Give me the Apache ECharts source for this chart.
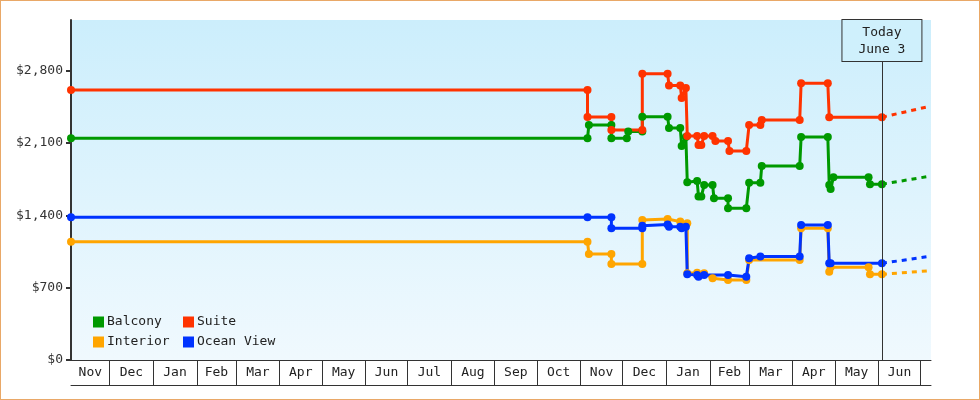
<!DOCTYPE html>
<html>
<head>
<meta charset="utf-8">
<script src="https://cdn.jsdelivr.net/npm/echarts@6/dist/echarts.min.js"></script>
<style>
  html, body { margin: 0; padding: 0; background: #fff; }
  #chart { width: 980px; height: 400px; box-sizing: border-box; border: 1px solid #e9a867; }
</style>
</head>
<body>
<div id="chart"></div>
<script>
const FONT = '"DejaVu Sans Mono", "Liberation Mono", monospace';

// axis range and "today"
const xStart = '2012-11-03 12:00';
const xEnd = '2014-07-08 10:00';
const today = '2014-06-03 12:00';

const monthStarts = [
  '2012-12-01', '2013-01-01', '2013-02-01', '2013-03-01', '2013-04-01', '2013-05-01',
  '2013-06-01', '2013-07-01', '2013-08-01', '2013-09-01', '2013-10-01', '2013-11-01',
  '2013-12-01', '2014-01-01', '2014-02-01', '2014-03-01', '2014-04-01', '2014-05-01',
  '2014-06-01', '2014-07-01'
];
const monthLabels = [
  'Nov', 'Dec', 'Jan', 'Feb', 'Mar', 'Apr', 'May', 'Jun', 'Jul', 'Aug', 'Sep', 'Oct',
  'Nov', 'Dec', 'Jan', 'Feb', 'Mar', 'Apr', 'May', 'Jun'
];
const yTicks = [0, 700, 1400, 2100, 2800];

const balcony = [
  [xStart, 2146], ['2013-11-06', 2146], ['2013-11-07', 2275], ['2013-11-23', 2275],
  ['2013-11-23', 2146], ['2013-12-04', 2146], ['2013-12-05', 2210], ['2013-12-15', 2210],
  ['2013-12-15', 2355], ['2014-01-02', 2355], ['2014-01-03', 2246], ['2014-01-11', 2246],
  ['2014-01-12', 2071], ['2014-01-15', 2158], ['2014-01-16', 1720], ['2014-01-23', 1733],
  ['2014-01-24', 1581], ['2014-01-26', 1581], ['2014-01-28', 1694], ['2014-02-03', 1694],
  ['2014-02-04', 1565], ['2014-02-14', 1565], ['2014-02-14', 1468], ['2014-02-27', 1468],
  ['2014-03-01', 1716], ['2014-03-09', 1716], ['2014-03-10', 1878], ['2014-04-06', 1878],
  ['2014-04-07', 2158], ['2014-04-26', 2158], ['2014-04-27', 1694], ['2014-04-28', 1655],
  ['2014-04-30', 1768], ['2014-05-25', 1768], ['2014-05-26', 1701], [today, 1701]
];
const suite = [
  [xStart, 2613], ['2013-11-06', 2613], ['2013-11-06', 2352], ['2013-11-23', 2352],
  ['2013-11-23', 2226], ['2013-12-15', 2226], ['2013-12-15', 2770], ['2014-01-02', 2770],
  ['2014-01-03', 2657], ['2014-01-11', 2657], ['2014-01-12', 2536], ['2014-01-15', 2633],
  ['2014-01-16', 2168], ['2014-01-23', 2168], ['2014-01-24', 2081], ['2014-01-26', 2081],
  ['2014-01-28', 2168], ['2014-02-03', 2168], ['2014-02-05', 2120], ['2014-02-14', 2120],
  ['2014-02-15', 2023], ['2014-02-27', 2023], ['2014-03-01', 2275], ['2014-03-09', 2275],
  ['2014-03-10', 2323], ['2014-04-06', 2323], ['2014-04-07', 2678], ['2014-04-26', 2678],
  ['2014-04-27', 2349], [today, 2349]
];
const interior = [
  [xStart, 1145], ['2013-11-06', 1145], ['2013-11-07', 1026], ['2013-11-23', 1026],
  ['2013-11-23', 929], ['2013-12-15', 929], ['2013-12-15', 1355], ['2014-01-02', 1365],
  ['2014-01-11', 1339], ['2014-01-16', 1323], ['2014-01-16', 839], ['2014-01-23', 845],
  ['2014-01-28', 839], ['2014-02-03', 791], ['2014-02-14', 774], ['2014-02-27', 774],
  ['2014-03-01', 968], ['2014-04-06', 968], ['2014-04-07', 1275], ['2014-04-26', 1275],
  ['2014-04-27', 855], ['2014-04-28', 897], ['2014-05-25', 897], ['2014-05-26', 829],
  [today, 829]
];
const oceanView = [
  [xStart, 1381], ['2013-11-06', 1381], ['2013-11-23', 1381], ['2013-11-23', 1275],
  ['2013-12-15', 1275], ['2013-12-15', 1300], ['2014-01-02', 1310], ['2014-01-03', 1290],
  ['2014-01-11', 1290], ['2014-01-12', 1275], ['2014-01-15', 1290], ['2014-01-16', 829],
  ['2014-01-23', 823], ['2014-01-24', 806], ['2014-01-28', 823], ['2014-02-14', 823],
  ['2014-02-27', 806], ['2014-03-01', 984], ['2014-03-09', 1002], ['2014-04-06', 1002],
  ['2014-04-07', 1307], ['2014-04-26', 1307], ['2014-04-27', 936], ['2014-04-28', 936],
  [today, 936]
];

// dashed projections after today
const balconyProj = [[today, 1701], ['2014-07-06', 1775]];
const suiteProj = [[today, 2349], ['2014-07-06', 2450]];
const interiorProj = [[today, 829], ['2014-07-06', 862]];
const oceanViewProj = [[today, 936], ['2014-07-06', 1000]];

const colors = {
  'Balcony': '#009900',
  'Suite': '#ff3300',
  'Interior': '#ffa500',
  'Ocean View': '#0033ff'
};

const ts = s => echarts.time.parse(s).getTime();
const toXY = arr => arr.map(p => [ts(p[0]), p[1]]);

// label positions: middle of each month segment (first one starts at the axis min)
const labelValues = monthLabels.map((m, i) => {
  const a = i === 0 ? ts(xStart) : ts(monthStarts[i - 1]);
  const b = ts(monthStarts[i]);
  return Math.round((a + b) / 2);
});
const labelMap = {};
labelValues.forEach((v, i) => { labelMap[v] = monthLabels[i]; });

function solid(name, data, extra) {
  return Object.assign({
    name: name,
    type: 'line',
    data: toXY(data),
    color: colors[name],
    lineStyle: { width: 3 },
    symbol: 'circle',
    symbolSize: 8,
    showSymbol: true,
    animation: false
  }, extra || {});
}

function dashed(name, data) {
  return {
    name: name,
    type: 'line',
    data: toXY(data),
    color: colors[name],
    lineStyle: { width: 3, type: [5, 5] },
    showSymbol: false,
    symbol: 'none',
    animation: false
  };
}

const chart = echarts.init(document.getElementById('chart'));

const legendBase = {
  orient: 'vertical',
  top: 314,
  padding: 0,
  itemWidth: 11,
  itemHeight: 11,
  itemGap: 6,
  icon: 'rect',
  selectedMode: false,
  textStyle: { fontFamily: FONT, fontSize: 13, color: '#222', lineHeight: 14, padding: [0, 0, 0, -2] }
};

chart.setOption({
  animation: false,
  grid: {
    left: 70,
    right: 48,
    top: 19,
    bottom: 39,
    show: true,
    borderWidth: 0,
    backgroundColor: new echarts.graphic.LinearGradient(0, 0, 0, 1, [
      { offset: 0, color: '#cceefc' },
      { offset: 1, color: '#f0f9fe' }
    ])
  },
  legend: [
    Object.assign({}, legendBase, { left: 92, data: ['Balcony', 'Interior'] }),
    Object.assign({}, legendBase, { left: 182, data: ['Suite', 'Ocean View'] })
  ],
  xAxis: [
    {
      type: 'value',
      min: ts(xStart),
      max: ts(xEnd),
      axisLine: { show: true, lineStyle: { color: '#333', width: 1 } },
      axisTick: {
        show: true,
        inside: false,
        length: 25,
        customValues: monthStarts.map(ts),
        lineStyle: { color: '#333', width: 1 }
      },
      axisLabel: {
        show: true,
        customValues: labelValues,
        margin: 6,
        fontFamily: FONT,
        fontSize: 13,
        color: '#222',
        formatter: v => labelMap[v] || ''
      },
      splitLine: { show: false }
    },
    {
      type: 'value',
      min: ts(xStart),
      max: ts(xEnd),
      position: 'bottom',
      offset: 25,
      axisLine: { show: true, lineStyle: { color: '#333', width: 1 } },
      axisTick: { show: false },
      axisLabel: { show: false },
      splitLine: { show: false }
    }
  ],
  yAxis: {
    type: 'value',
    min: 0,
    max: 3290,
    axisLine: { show: true, lineStyle: { color: '#333', width: 2 } },
    axisTick: {
      show: true,
      length: 5,
      customValues: yTicks,
      lineStyle: { color: '#333', width: 2 }
    },
    axisLabel: {
      customValues: yTicks,
      margin: 8,
      fontFamily: FONT,
      fontSize: 13,
      color: '#333',
      formatter: v => '$' + v.toLocaleString('en-US')
    },
    splitLine: { show: false }
  },
  series: [
    solid('Interior', interior, {
      markLine: {
        silent: true,
        symbol: ['none', 'none'],
        lineStyle: { color: '#333', width: 1, type: 'solid' },
        label: {
          show: true,
          position: 'end',
          distance: -41,
          formatter: 'Today\nJune 3',
          fontFamily: FONT,
          fontSize: 13,
          lineHeight: 17,
          color: '#222',
          align: 'center',
          backgroundColor: '#cff0fc',
          borderColor: '#333',
          borderWidth: 1,
          padding: [4, 16, 3, 16]
        },
        data: [{ xAxis: ts(today) }]
      }
    }),
    solid('Balcony', balcony),
    solid('Ocean View', oceanView),
    solid('Suite', suite),
    dashed('Interior', interiorProj),
    dashed('Balcony', balconyProj),
    dashed('Ocean View', oceanViewProj),
    dashed('Suite', suiteProj)
  ]
});
</script>
</body>
</html>
